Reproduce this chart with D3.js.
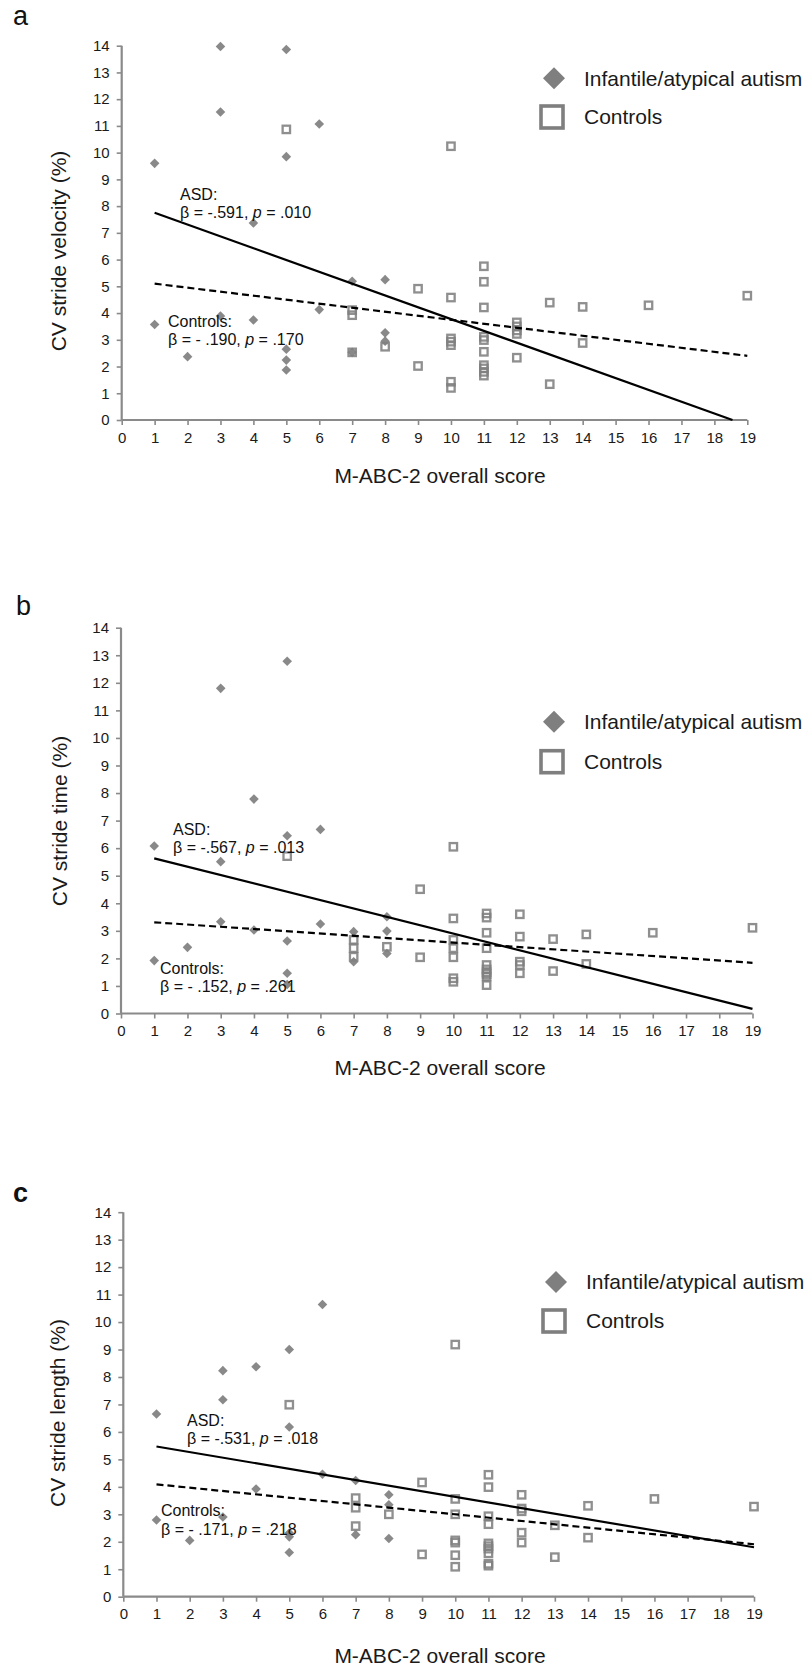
<!DOCTYPE html>
<html><head><meta charset="utf-8">
<script src="https://cdn.jsdelivr.net/npm/d3@7/dist/d3.min.js"></script>
<style>
body{margin:0;background:#fff;}
svg{display:block;}
text{font-family:"Liberation Sans",Arial,sans-serif;}
</style>
</head><body>
<svg id="chart" width="812" height="1669"></svg>
<script>
// ---------- DATA ----------
const xTicks = [0,1,2,3,4,5,6,7,8,9,10,11,12,13,14,15,16,17,18,19];
const yTicks = [0,1,2,3,4,5,6,7,8,9,10,11,12,13,14];
const seriesNames = ["Infantile/atypical autism", "Controls"];
const panelLetters = ["a", "b", "c"];
const yTitles = ["CV stride velocity (%)", "CV stride time (%)", "CV stride length (%)"];
const xTitle = "M-ABC-2 overall score";

// Panel a: CV stride velocity
const asdA = [[1,9.60],[1,3.57],[2,2.37],[3,13.97],[3,11.52],[3,3.89],[4,7.37],[4,3.74],
  [5,13.86],[5,9.85],[5,2.65],[5,2.24],[5,1.87],[6,11.07],[6,4.13],[7,5.19],[7,2.53],
  [8,5.25],[8,3.26],[8,2.95]];
const ctlA = [[5,10.87],[7,4.11],[7,3.92],[7,2.53],[8,2.74],[9,4.91],[9,2.02],
  [10,10.24],[10,4.58],[10,3.05],[10,2.93],[10,2.80],[10,1.43],[10,1.20],
  [11,5.75],[11,5.17],[11,4.21],[11,3.11],[11,2.99],[11,2.55],[11,2.05],[11,1.93],[11,1.80],[11,1.66],
  [12,3.65],[12,3.50],[12,3.35],[12,3.22],[12,2.33],[13,4.39],[13,1.34],[14,4.23],[14,2.88],
  [16,4.29],[19,4.65]];
const asdLineA = [[1,7.75],[18.55,0]];
const ctlLineA = [[1,5.10],[19,2.40]];
const betaA = ["-.591", "- .190"];
const pA = [".010", ".170"];

// Panel b: CV stride time
const asdB = [[1,6.08],[1,1.92],[2,2.40],[3,11.80],[3,5.51],[3,3.33],[4,7.78],[4,3.03],
  [5,12.78],[5,6.45],[5,2.63],[5,1.46],[5,1.05],[6,6.68],[6,3.25],[7,2.97],[7,1.88],
  [8,3.51],[8,2.99],[8,2.18]];
const ctlB = [[5,5.71],[7,2.67],[7,2.37],[7,2.06],[8,2.42],[9,4.51],[9,2.04],
  [10,6.05],[10,3.45],[10,2.67],[10,2.37],[10,2.04],[10,1.28],[10,1.15],
  [11,3.63],[11,3.48],[11,2.93],[11,2.37],[11,1.76],[11,1.60],[11,1.50],[11,1.43],[11,1.34],[11,1.03],
  [12,3.60],[12,2.79],[12,1.88],[12,1.76],[12,1.46],[13,2.70],[13,1.54],[14,2.87],[14,1.80],
  [16,2.93],[19,3.11]];
const asdLineB = [[1,5.63],[19,0.17]];
const ctlLineB = [[1,3.31],[19,1.84]];
const betaB = ["-.567", "- .152"];
const pB = [".013", ".261"];

// Panel c: CV stride length
const asdC = [[1,6.65],[1,2.79],[2,2.05],[3,8.23],[3,7.17],[3,2.90],[4,8.37],[4,3.92],
  [5,9.00],[5,6.18],[5,2.32],[5,2.18],[5,1.61],[6,10.64],[6,4.46],[7,4.23],[7,2.26],
  [8,3.71],[8,3.35],[8,2.12]];
const ctlC = [[5,6.99],[7,3.59],[7,3.24],[7,2.57],[8,3.00],[9,4.16],[9,1.54],
  [10,9.18],[10,3.56],[10,3.00],[10,2.05],[10,1.97],[10,1.51],[10,1.09],
  [11,4.44],[11,3.99],[11,2.93],[11,2.64],[11,1.94],[11,1.84],[11,1.75],[11,1.58],[11,1.20],[11,1.13],
  [12,3.71],[12,3.21],[12,3.11],[12,2.33],[12,1.97],[13,2.60],[13,1.44],[14,3.31],[14,2.15],
  [16,3.56],[19,3.28]];
const asdLineC = [[1,5.47],[19,1.80]];
const ctlLineC = [[1,4.09],[19,1.91]];
const betaC = ["-.531", "- .171"];
const pC = [".018", ".218"];

// ---------- LAYOUT (positions only) ----------
const layouts = [
  {x0:121.7, x1:747.3, y0:420,    y1:45.7,   letter:[13,25,"normal"],  legY:[78.3,117],   legX:584,
   ann:[[180,194],[168,321]], yT:[59,251], xT:[440,476]},
  {x0:121,   x1:752.5, y0:1013.5, y1:627.7,  letter:[16,615,"normal"], legY:[721.7,761.7], legX:584,
   ann:[[173,829],[160,968]], yT:[60,821], xT:[440,1068]},
  {x0:123.3, x1:754,   y0:1596.7, y1:1212.2, letter:[13,1202,"bold"],  legY:[1282,1321],  legX:586,
   ann:[[187,1420],[161,1510.5]], yT:[58,1413], xT:[440,1656]}
];
const panelData = [
  {asd:asdA, ctl:ctlA, asdLine:asdLineA, ctlLine:ctlLineA, beta:betaA, p:pA},
  {asd:asdB, ctl:ctlB, asdLine:asdLineB, ctlLine:ctlLineB, beta:betaB, p:pB},
  {asd:asdC, ctl:ctlC, asdLine:asdLineC, ctlLine:ctlLineC, beta:betaC, p:pC}
];

const GRAY = "#7f7f7f";
const AXIS = "#8a8a8a";
const svg = d3.select("#chart");
svg.append("rect").attr("width",812).attr("height",1669).attr("fill","#fff");

const diamond = r => `M0,${-r}L${r},0L0,${r}L${-r},0Z`;

layouts.forEach((L, i) => {
  const D = panelData[i];
  const x = d3.scaleLinear().domain([0,19]).range([L.x0, L.x1]);
  const y = d3.scaleLinear().domain([0,14]).range([L.y0, L.y1]);
  const g = svg.append("g");

  // panel letter
  g.append("text").attr("x", L.letter[0]).attr("y", L.letter[1])
    .attr("font-size", 27).attr("font-weight", L.letter[2]).attr("fill","#111")
    .text(panelLetters[i]);

  // axes
  const ya = g.append("g").attr("transform", `translate(${L.x0},0)`)
    .call(d3.axisLeft(y).tickValues(yTicks).tickSize(5).tickPadding(7).tickFormat(d3.format("d")));
  const xa = g.append("g").attr("transform", `translate(0,${L.y0})`)
    .call(d3.axisBottom(x).tickValues(xTicks).tickSize(5).tickPadding(7).tickFormat(d3.format("d")));
  [ya, xa].forEach(a => {
    a.select(".domain").attr("stroke", AXIS).attr("stroke-width", 2.2);
    a.selectAll(".tick line").attr("stroke", AXIS).attr("stroke-width", 1.6);
    a.selectAll(".tick text").attr("font-size", 15).attr("fill", "#1a1a1a")
      .attr("font-family", '"Liberation Sans",Arial,sans-serif');
  });
  // replace domain with plain lines (no end caps)
  ya.select(".domain").attr("d", `M0,${L.y0}V${L.y1}`);
  xa.select(".domain").attr("d", `M${L.x0},0H${L.x1}`);

  // axis titles
  g.append("text").attr("transform", `translate(${L.yT[0]},${L.yT[1]}) rotate(-90)`)
    .attr("text-anchor","middle").attr("dy","0.35em").attr("font-size", 21).attr("fill","#1a1a1a")
    .text(yTitles[i]);
  g.append("text").attr("x", L.xT[0]).attr("y", L.xT[1]).attr("dy","0.35em")
    .attr("text-anchor","middle").attr("font-size", 21).attr("fill","#1a1a1a").text(xTitle);

  // markers: ASD diamonds
  g.append("g").selectAll("path").data(D.asd).join("path")
    .attr("transform", d => `translate(${x(d[0])},${y(d[1])})`)
    .attr("d", diamond(4.8)).attr("fill", GRAY).attr("fill-opacity", 0.92);
  // controls squares
  g.append("g").selectAll("rect").data(D.ctl).join("rect")
    .attr("x", d => x(d[0]) - 3.7).attr("y", d => y(d[1]) - 3.7)
    .attr("width", 7.4).attr("height", 7.4)
    .attr("fill", "none").attr("stroke", GRAY).attr("stroke-width", 2.3).attr("stroke-opacity", 0.88);

  // regression lines
  const line = d3.line().x(d => x(d[0])).y(d => y(d[1]));
  g.append("path").datum(D.asdLine).attr("d", line)
    .attr("stroke", "#000").attr("stroke-width", 2.2).attr("fill", "none");
  g.append("path").datum(D.ctlLine).attr("d", line)
    .attr("stroke", "#000").attr("stroke-width", 2.2).attr("fill", "none")
    .attr("stroke-dasharray", "7,4");

  // annotations
  const labels = ["ASD:", "Controls:"];
  [0,1].forEach(k => {
    const [ax, ay] = L.ann[k];
    g.append("text").attr("x", ax).attr("y", ay).attr("dy","0.35em")
      .attr("font-size", 16).attr("fill", "#111").text(labels[k]);
    const t = g.append("text").attr("x", ax).attr("y", ay + 18.5).attr("dy","0.35em")
      .attr("font-size", 16).attr("fill", "#111");
    t.append("tspan").text(`β = ${D.beta[k]}, `);
    t.append("tspan").attr("font-style","italic").text("p");
    t.append("tspan").text(` = ${D.p[k]}`);
  });

  // legend
  g.append("path").attr("transform", `translate(${L.legX - 30},${L.legY[0]})`)
    .attr("d", diamond(11)).attr("fill", GRAY);
  g.append("rect").attr("x", L.legX - 43).attr("y", L.legY[1] - 11)
    .attr("width", 22).attr("height", 22)
    .attr("fill", "none").attr("stroke", GRAY).attr("stroke-width", 3.6);
  g.append("text").attr("x", L.legX).attr("y", L.legY[0]).attr("dy","0.35em")
    .attr("font-size", 21).attr("fill", "#1a1a1a").text(seriesNames[0]);
  g.append("text").attr("x", L.legX).attr("y", L.legY[1]).attr("dy","0.35em")
    .attr("font-size", 21).attr("fill", "#1a1a1a").text(seriesNames[1]);
});
</script>
</body></html>
